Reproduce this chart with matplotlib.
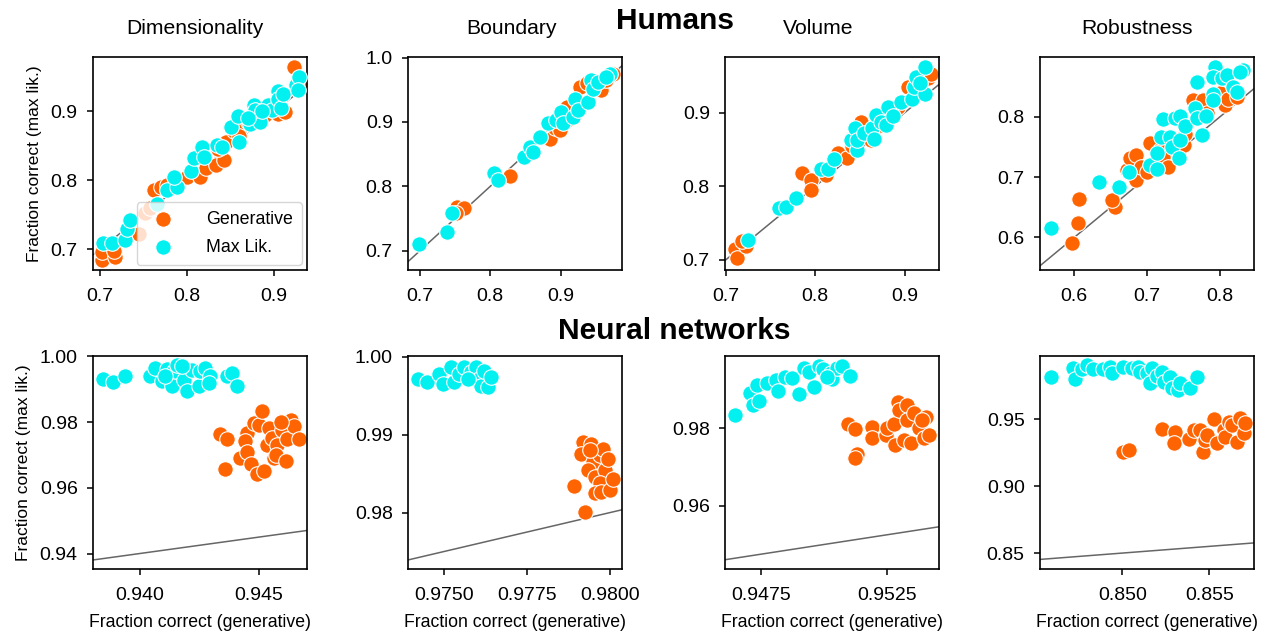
import matplotlib
matplotlib.use("Agg")
import matplotlib.pyplot as plt
from matplotlib.ticker import FormatStrFormatter

plt.rcParams['font.family'] = ['Liberation Sans', 'DejaVu Sans']

# ---- data: (generative, max lik.) pairs ----
titles = ["Dimensionality", "Boundary", "Volume", "Robustness"]

hum_dim_gen = [(0.702, 0.684), (0.702, 0.696), (0.717, 0.689), (0.716, 0.697), (0.745, 0.722),
               (0.752, 0.752), (0.758, 0.760), (0.762, 0.786), (0.770, 0.790), (0.777, 0.793),
               (0.790, 0.795), (0.800, 0.805), (0.815, 0.805), (0.822, 0.818), (0.833, 0.822),
               (0.842, 0.829), (0.835, 0.845), (0.845, 0.855), (0.854, 0.872), (0.862, 0.878),
               (0.870, 0.885), (0.880, 0.890), (0.890, 0.895), (0.900, 0.900), (0.905, 0.897),
               (0.913, 0.899), (0.923, 0.965), (0.930, 0.940), (0.895, 0.905), (0.860, 0.865)]
hum_dim_ml = [(0.703, 0.709), (0.714, 0.709), (0.729, 0.713), (0.731, 0.730), (0.735, 0.742),
              (0.765, 0.766), (0.777, 0.786), (0.788, 0.790), (0.785, 0.805), (0.804, 0.814),
              (0.808, 0.832), (0.817, 0.848), (0.819, 0.834), (0.834, 0.852), (0.840, 0.848),
              (0.850, 0.878), (0.858, 0.894), (0.860, 0.856), (0.872, 0.882), (0.877, 0.909),
              (0.880, 0.895), (0.884, 0.884), (0.878, 0.902), (0.893, 0.909), (0.898, 0.902),
              (0.904, 0.930), (0.904, 0.918), (0.908, 0.905), (0.910, 0.925), (0.925, 0.938),
              (0.929, 0.950), (0.927, 0.931), (0.886, 0.900), (0.870, 0.890)]

hum_bnd_gen = [(0.752, 0.768), (0.763, 0.766), (0.751, 0.758), (0.828, 0.816), (0.875, 0.877),
               (0.885, 0.874), (0.892, 0.890), (0.899, 0.887), (0.909, 0.923), (0.928, 0.955),
               (0.937, 0.960), (0.958, 0.949), (0.975, 0.975), (0.965, 0.965), (0.912, 0.905)]
hum_bnd_ml = [(0.699, 0.710), (0.738, 0.729), (0.745, 0.759), (0.805, 0.821), (0.811, 0.810),
              (0.848, 0.846), (0.856, 0.861), (0.861, 0.854), (0.871, 0.877), (0.882, 0.898),
              (0.894, 0.903), (0.901, 0.916), (0.904, 0.898), (0.918, 0.908), (0.920, 0.936),
              (0.925, 0.918), (0.939, 0.931), (0.944, 0.965), (0.946, 0.952), (0.954, 0.962),
              (0.970, 0.975), (0.965, 0.970)]

hum_vol_gen = [(0.710, 0.714), (0.712, 0.702), (0.723, 0.718), (0.718, 0.725), (0.785, 0.818),
               (0.795, 0.809), (0.795, 0.795), (0.812, 0.815), (0.825, 0.845), (0.836, 0.838),
               (0.851, 0.888), (0.862, 0.863), (0.874, 0.883), (0.904, 0.935), (0.926, 0.947),
               (0.930, 0.953), (0.881, 0.903), (0.893, 0.908), (0.841, 0.855)]
hum_vol_ml = [(0.725, 0.727), (0.759, 0.770), (0.767, 0.772), (0.778, 0.784), (0.806, 0.824),
              (0.814, 0.824), (0.821, 0.837), (0.840, 0.863), (0.844, 0.879), (0.847, 0.849),
              (0.847, 0.863), (0.855, 0.872), (0.864, 0.879), (0.866, 0.865), (0.868, 0.897),
              (0.874, 0.888), (0.879, 0.883), (0.881, 0.908), (0.887, 0.895), (0.896, 0.915),
              (0.908, 0.919), (0.911, 0.935), (0.913, 0.949), (0.923, 0.926), (0.923, 0.962),
              (0.917, 0.941)]

hum_rob_gen = [(0.597, 0.590), (0.605, 0.624), (0.606, 0.664), (0.656, 0.651), (0.652, 0.662),
               (0.672, 0.712), (0.676, 0.731), (0.685, 0.736), (0.685, 0.695), (0.692, 0.717),
               (0.700, 0.709), (0.704, 0.756), (0.718, 0.745), (0.722, 0.734), (0.729, 0.717),
               (0.750, 0.753), (0.752, 0.772), (0.763, 0.828), (0.777, 0.828), (0.782, 0.806),
               (0.800, 0.839), (0.807, 0.819), (0.811, 0.830), (0.823, 0.833)]
hum_rob_ml = [(0.568, 0.616), (0.634, 0.692), (0.662, 0.684), (0.675, 0.709), (0.704, 0.720),
              (0.714, 0.713), (0.713, 0.740), (0.719, 0.766), (0.722, 0.797), (0.731, 0.767),
              (0.734, 0.750), (0.743, 0.731), (0.745, 0.761), (0.738, 0.798), (0.745, 0.801),
              (0.752, 0.785), (0.766, 0.814), (0.768, 0.858), (0.768, 0.798), (0.775, 0.770),
              (0.781, 0.801), (0.791, 0.838), (0.791, 0.828), (0.793, 0.883), (0.791, 0.866),
              (0.802, 0.864), (0.809, 0.869), (0.818, 0.850), (0.823, 0.841), (0.832, 0.877),
              (0.827, 0.874)]

nn_dim_gen = [(0.94339, 0.9765), (0.94367, 0.9747), (0.94356, 0.9657), (0.94451, 0.9767),
              (0.94444, 0.9742), (0.94423, 0.9691), (0.94451, 0.9708), (0.94465, 0.9671),
              (0.94479, 0.9797), (0.94500, 0.9792), (0.94493, 0.9643), (0.94521, 0.9650),
              (0.94514, 0.9833), (0.94535, 0.9731), (0.94542, 0.9782), (0.94556, 0.9752),
              (0.94563, 0.9691), (0.94577, 0.9731), (0.94570, 0.9701), (0.94598, 0.9777),
              (0.94612, 0.9681), (0.94619, 0.9747), (0.94633, 0.9807), (0.94647, 0.9787),
              (0.94668, 0.9750), (0.94591, 0.9800)]
nn_dim_ml = [(0.93846, 0.9931), (0.93888, 0.9921), (0.93940, 0.9939), (0.94045, 0.9939),
             (0.94066, 0.9965), (0.94094, 0.9924), (0.94115, 0.9961), (0.94143, 0.9954),
             (0.94136, 0.9909), (0.94157, 0.9975), (0.94185, 0.9929), (0.94199, 0.9894),
             (0.94220, 0.9959), (0.94248, 0.9909), (0.94255, 0.9954), (0.94276, 0.9965),
             (0.94297, 0.9939), (0.94290, 0.9919), (0.94367, 0.9939), (0.94388, 0.9949),
             (0.94409, 0.9911), (0.94178, 0.9970), (0.94108, 0.9939)]

nn_bnd_gen = [(0.97894, 0.98340), (0.97927, 0.98013), (0.97920, 0.98906), (0.97915, 0.98757),
              (0.97945, 0.98885), (0.97950, 0.98651), (0.97935, 0.98545), (0.97955, 0.98460),
              (0.97970, 0.98736), (0.97980, 0.98821), (0.97985, 0.98553), (0.97970, 0.98374),
              (0.97955, 0.98247), (0.97975, 0.98268), (0.98000, 0.98289), (0.98010, 0.98438),
              (0.97995, 0.98694), (0.97940, 0.98800)]
nn_bnd_ml = [(0.97422, 0.99715), (0.97449, 0.99672), (0.97487, 0.99779), (0.97497, 0.99651),
             (0.97522, 0.99864), (0.97532, 0.99672), (0.97547, 0.99779), (0.97562, 0.99872),
             (0.97582, 0.99800), (0.97598, 0.99864), (0.97608, 0.99715), (0.97613, 0.99630),
             (0.97623, 0.99813), (0.97633, 0.99609), (0.97643, 0.99736), (0.97572, 0.99715)]

nn_vol_gen = [(0.95096, 0.98112), (0.95126, 0.97974), (0.95133, 0.97339), (0.95126, 0.97227),
              (0.95193, 0.98026), (0.95193, 0.97742), (0.95246, 0.97828), (0.95253, 0.98000),
              (0.95279, 0.98112), (0.95282, 0.97571), (0.95293, 0.98687), (0.95299, 0.98472),
              (0.95332, 0.98601), (0.95332, 0.98215), (0.95319, 0.97700), (0.95346, 0.97614),
              (0.95359, 0.98386), (0.95379, 0.98000), (0.95406, 0.98300), (0.95399, 0.97742),
              (0.95419, 0.97828), (0.95392, 0.98215)]
nn_vol_ml = [(0.94648, 0.98343), (0.94707, 0.98901), (0.94721, 0.98601), (0.94741, 0.98704),
             (0.94734, 0.99116), (0.94774, 0.99176), (0.94811, 0.99245), (0.94820, 0.98970),
             (0.94847, 0.99330), (0.94874, 0.99288), (0.94900, 0.98884), (0.94920, 0.99545),
             (0.94940, 0.99459), (0.94960, 0.99056), (0.94980, 0.99605), (0.94997, 0.99519),
             (0.95027, 0.99416), (0.95033, 0.99262), (0.95053, 0.99545), (0.95073, 0.99605),
             (0.95104, 0.99356), (0.95013, 0.99330)]

nn_rob_gen = [(0.85006, 0.92587), (0.85040, 0.92711), (0.85227, 0.94254), (0.85304, 0.94080),
              (0.85298, 0.93259), (0.85381, 0.93507), (0.85410, 0.94204), (0.85448, 0.94204),
              (0.85467, 0.92587), (0.85477, 0.93458), (0.85487, 0.93831), (0.85525, 0.95000),
              (0.85544, 0.93209), (0.85583, 0.94204), (0.85592, 0.93706), (0.85612, 0.94826),
              (0.85631, 0.94577), (0.85660, 0.93333), (0.85679, 0.95075), (0.85698, 0.93955),
              (0.85708, 0.94701)]
nn_rob_ml = [(0.84588, 0.98184), (0.84717, 0.98806), (0.84727, 0.97985), (0.84765, 0.98731),
             (0.84794, 0.99055), (0.84833, 0.98731), (0.84890, 0.98731), (0.84929, 0.98930),
             (0.84942, 0.98433), (0.85006, 0.98930), (0.85054, 0.98806), (0.85092, 0.98930),
             (0.85102, 0.98557), (0.85140, 0.98433), (0.85160, 0.97687), (0.85169, 0.98806),
             (0.85198, 0.98234), (0.85227, 0.98557), (0.85237, 0.97811), (0.85275, 0.98184),
             (0.85285, 0.97313), (0.85323, 0.97189), (0.85333, 0.97687), (0.85390, 0.97313),
             (0.85429, 0.98184)]

humans = [(hum_dim_gen, hum_dim_ml), (hum_bnd_gen, hum_bnd_ml),
          (hum_vol_gen, hum_vol_ml), (hum_rob_gen, hum_rob_ml)]
nets = [(nn_dim_gen, nn_dim_ml), (nn_bnd_gen, nn_bnd_ml),
        (nn_vol_gen, nn_vol_ml), (nn_rob_gen, nn_rob_ml)]

# ---- layout / axis settings ----
c_gen = '#ff6403'
c_ml = '#03f0f0'

top_lims = [((0.692, 0.938), (0.670, 0.979)), ((0.683, 0.988), (0.670, 1.001)),
            ((0.699, 0.939), (0.686, 0.976)), ((0.553, 0.847), (0.546, 0.899))]
top_ticks = [([0.7, 0.8, 0.9], [0.7, 0.8, 0.9]), ([0.7, 0.8, 0.9], [0.7, 0.8, 0.9, 1.0]),
             ([0.7, 0.8, 0.9], [0.7, 0.8, 0.9]), ([0.6, 0.7, 0.8], [0.6, 0.7, 0.8])]
bot_lims = [((0.93804, 0.94703), (0.9353, 1.0001)), ((0.97393, 0.98038), (0.97277, 1.0001)),
            ((0.94608, 0.95459), (0.94369, 0.99863)), ((0.84525, 0.85760), (0.8381, 0.99726))]
bot_ticks = [([0.940, 0.945], [0.94, 0.96, 0.98, 1.00]),
             ([0.9750, 0.9775, 0.9800], [0.98, 0.99, 1.00]),
             ([0.9475, 0.9525], [0.96, 0.98]),
             ([0.850, 0.855], [0.85, 0.90, 0.95])]
bot_fmt = [('%.3f', '%.2f'), ('%.4f', '%.2f'), ('%.4f', '%.2f'), ('%.3f', '%.2f')]

lefts = [0.0733, 0.3218, 0.5718, 0.8202]
W, H = 0.169, 0.337

fig = plt.figure(figsize=(12.68, 6.32), dpi=100)


def panel(ax, gen, ml, lims, ticks):
    (x0, x1), (y0, y1) = lims
    lo, hi = min(x0, y0), max(x1, y1)
    ax.plot([lo, hi], [lo, hi], color='#666666', lw=1.1, zorder=1)
    ax.scatter([p[0] for p in gen], [p[1] for p in gen], s=125, color=c_gen,
               edgecolors='white', linewidths=0.8, zorder=2, label='Generative')
    ax.scatter([p[0] for p in ml], [p[1] for p in ml], s=125, color=c_ml,
               edgecolors='white', linewidths=0.8, zorder=3, label='Max Lik.')
    ax.set_xlim(x0, x1)
    ax.set_ylim(y0, y1)
    ax.set_xticks(ticks[0])
    ax.set_yticks(ticks[1])
    ax.tick_params(labelsize=14, length=4.5, width=1.1)
    ax.tick_params(axis='x', pad=8.5)
    ax.tick_params(axis='y', pad=6.5)
    for s in ax.spines.values():
        s.set_linewidth(1.2)


for i in range(4):
    ax = fig.add_axes([lefts[i], 0.5728, W, H])
    panel(ax, humans[i][0], humans[i][1], top_lims[i], top_ticks[i])
    ax.xaxis.set_major_formatter(FormatStrFormatter('%.1f'))
    ax.yaxis.set_major_formatter(FormatStrFormatter('%.1f'))
    if i == 0:
        ax.set_ylabel('Fraction correct (max lik.)', fontsize=12.5, labelpad=6)
        ax.legend(loc='lower right', fontsize=12.8, handletextpad=1.4,
                  borderpad=0.5, labelspacing=0.6, borderaxespad=0.3)

    ax = fig.add_axes([lefts[i], 0.0997, W, H])
    panel(ax, nets[i][0], nets[i][1], bot_lims[i], bot_ticks[i])
    ax.xaxis.set_major_formatter(FormatStrFormatter(bot_fmt[i][0]))
    ax.yaxis.set_major_formatter(FormatStrFormatter(bot_fmt[i][1]))
    ax.set_xlabel('Fraction correct (generative)', fontsize=12.7, labelpad=7)
    if i == 0:
        ax.set_ylabel('Fraction correct (max lik.)', fontsize=12.5, labelpad=6)

title_x = [0.154, 0.403, 0.645, 0.897]
for t, x in zip(titles, title_x):
    fig.text(x, 0.955, t, ha='center', va='center', fontsize=15.2)
fig.text(0.532, 0.966, 'Humans', ha='center', va='center', fontsize=21.5, fontweight='bold')
fig.text(0.532, 0.476, 'Neural networks', ha='center', va='center', fontsize=21.5,
         fontweight='bold')

fig.savefig('out.png', dpi=100)
